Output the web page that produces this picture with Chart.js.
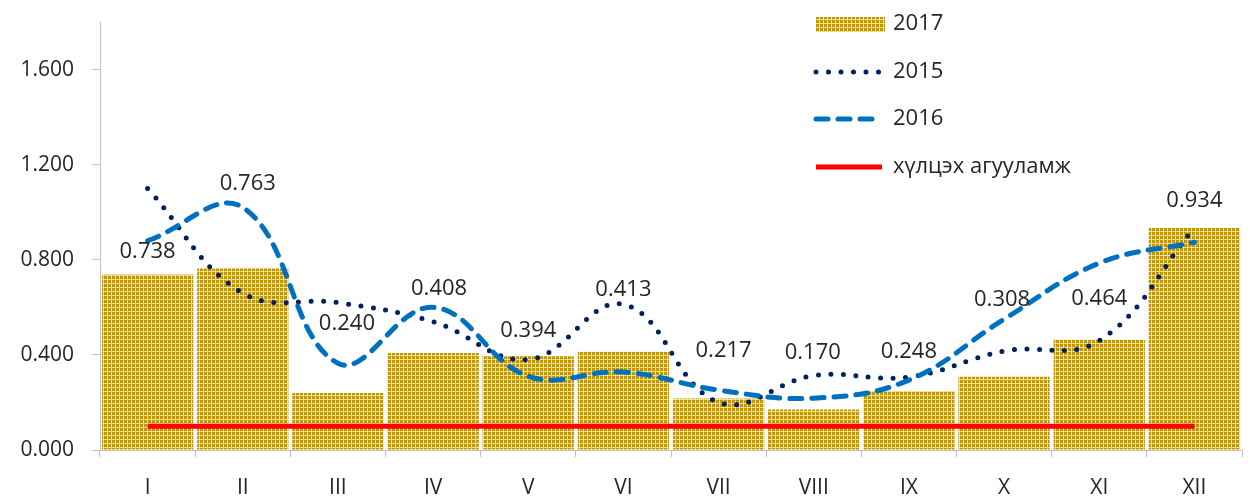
<!DOCTYPE html>
<html>
<head>
<meta charset="utf-8">
<script src="https://cdn.jsdelivr.net/npm/chart.js@4.4.1/dist/chart.umd.min.js"></script>
<style>
  html, body { margin: 0; padding: 0; background: #fff; }
  #wrap { width: 1250px; height: 497px; }
</style>
</head>
<body>
<div id="wrap"><canvas id="chart" width="1250" height="497"></canvas></div>
<script>
const months = ["I", "II", "III", "IV", "V", "VI", "VII", "VIII", "IX", "X", "XI", "XII"];
const values2017 = [0.738, 0.763, 0.240, 0.408, 0.394, 0.413, 0.217, 0.170, 0.248, 0.308, 0.464, 0.934];
const values2015 = [1.10, 0.66, 0.62, 0.54, 0.38, 0.613, 0.20, 0.313, 0.307, 0.416, 0.46, 0.935];
const values2016 = [0.88, 1.02, 0.365, 0.60, 0.31, 0.328, 0.252, 0.218, 0.294, 0.55, 0.786, 0.874];
const limitValue = 0.1;
const limitSeries = months.map(() => limitValue);
const yTicks = [0, 0.4, 0.8, 1.2, 1.6];

// where each value label sits, px from the top-centre of its bar
const labelShift = [
  [0, -23], [5, -85], [9, -69], [6, -64], [0, -26], [0, -62],
  [5, -48], [-1, -57], [0, -39], [-2, -77], [0, -41], [0, -27],
];

const FONT = "'Open Sans', sans-serif";
const TEXT = "#262626";
const AXIS = "#bfbfbf";

// small gold/white plaid used as the bar fill
function makeWeave() {
  const c = document.createElement("canvas");
  c.width = 4;
  c.height = 4;
  const g = c.getContext("2d");
  const G = "#c2960a", W = "#fcf6e4", L = "#e4cc7a";
  const cells = [
    [G, G, G, L],
    [G, G, G, W],
    [G, G, G, L],
    [L, W, L, W],
  ];
  cells.forEach((row, y) => row.forEach((col, x) => {
    g.fillStyle = col;
    g.fillRect(x, y, 1, 1);
  }));
  return document.getElementById("chart").getContext("2d").createPattern(c, "repeat");
}

const weave = makeWeave();

const valueLabels = {
  id: "valueLabels",
  afterDatasetsDraw(chart) {
    const meta = chart.getDatasetMeta(0);
    const ctx = chart.ctx;
    ctx.save();
    ctx.font = "22px " + FONT;
    ctx.fillStyle = TEXT;
    ctx.textAlign = "center";
    ctx.textBaseline = "middle";
    meta.data.forEach((bar, i) => {
      const [dx, dy] = labelShift[i];
      ctx.fillText(values2017[i].toFixed(3), bar.x + dx, bar.y + dy);
    });
    ctx.restore();
  },
};

const sideLegend = {
  id: "sideLegend",
  afterDraw(chart) {
    const ctx = chart.ctx;
    const ds = chart.data.datasets;
    const x0 = 816, x1 = 882, tx = 893;
    const rows = [
      { set: ds[0], y: 24 },
      { set: ds[1], y: 72 },
      { set: ds[2], y: 119 },
      { set: ds[3], y: 167 },
    ];
    ctx.save();
    rows.forEach(({ set, y }) => {
      if (set.type === "bar") {
        ctx.fillStyle = set.backgroundColor;
        ctx.fillRect(x0, y - 7, 69, 15);
      } else {
        ctx.strokeStyle = set.borderColor;
        ctx.lineWidth = set.borderWidth;
        ctx.lineCap = set.borderCapStyle || "butt";
        ctx.setLineDash(set.borderDash || []);
        ctx.beginPath();
        ctx.moveTo(x0, y);
        ctx.lineTo(x1, y);
        ctx.stroke();
        ctx.setLineDash([]);
      }
      ctx.font = "22px " + FONT;
      ctx.fillStyle = TEXT;
      ctx.textAlign = "left";
      ctx.textBaseline = "middle";
      ctx.fillText(set.label, tx, y);
    });
    ctx.restore();
  },
};

new Chart(document.getElementById("chart"), {
  type: "bar",
  data: {
    labels: months,
    datasets: [
      {
        type: "bar",
        label: "2017",
        data: values2017,
        backgroundColor: weave,
        barPercentage: 0.96,
        categoryPercentage: 1,
        order: 4,
      },
      {
        type: "line",
        label: "2015",
        data: values2015,
        borderColor: "#002060",
        borderWidth: 5,
        borderDash: [0, 12.5],
        borderCapStyle: "round",
        pointRadius: 0,
        tension: 0.4,
        fill: false,
        order: 2,
      },
      {
        type: "line",
        label: "2016",
        data: values2016,
        borderColor: "#0070c0",
        borderWidth: 5,
        borderDash: [12, 10],
        borderCapStyle: "round",
        pointRadius: 0,
        tension: 0.4,
        fill: false,
        order: 1,
      },
      {
        type: "line",
        label: "хүлцэх агууламж",
        data: limitSeries,
        borderColor: "#ff0000",
        borderWidth: 5,
        pointRadius: 0,
        tension: 0,
        fill: false,
        order: 3,
      },
    ],
  },
  options: {
    responsive: false,
    animation: false,
    layout: { padding: { top: 22, right: 8, left: 0, bottom: 0 } },
    plugins: {
      legend: { display: false },
      tooltip: { enabled: false },
    },
    scales: {
      x: {
        offset: true,
        grid: {
          offset: true,
          drawOnChartArea: false,
          tickLength: 7,
          color: AXIS,
        },
        border: { color: AXIS },
        ticks: {
          color: TEXT,
          padding: 18,
          font: { family: FONT, size: 21 },
          maxRotation: 0,
        },
        afterFit(scale) { scale.height = 47; },
      },
      y: {
        min: 0,
        max: 1.8,
        afterBuildTicks(scale) {
          scale.ticks = yTicks.map((v) => ({ value: v }));
        },
        grid: {
          drawOnChartArea: false,
          tickLength: 8,
          color: AXIS,
        },
        border: { color: AXIS },
        ticks: {
          color: TEXT,
          padding: 18,
          font: { family: FONT, size: 21 },
          callback: (v) => Number(v).toFixed(3),
        },
        afterFit(scale) {
          scale.width = 100;
          scale.paddingTop = 0;
          scale.paddingBottom = 0;
        },
      },
    },
  },
  plugins: [valueLabels, sideLegend],
});
</script>
</body>
</html>
